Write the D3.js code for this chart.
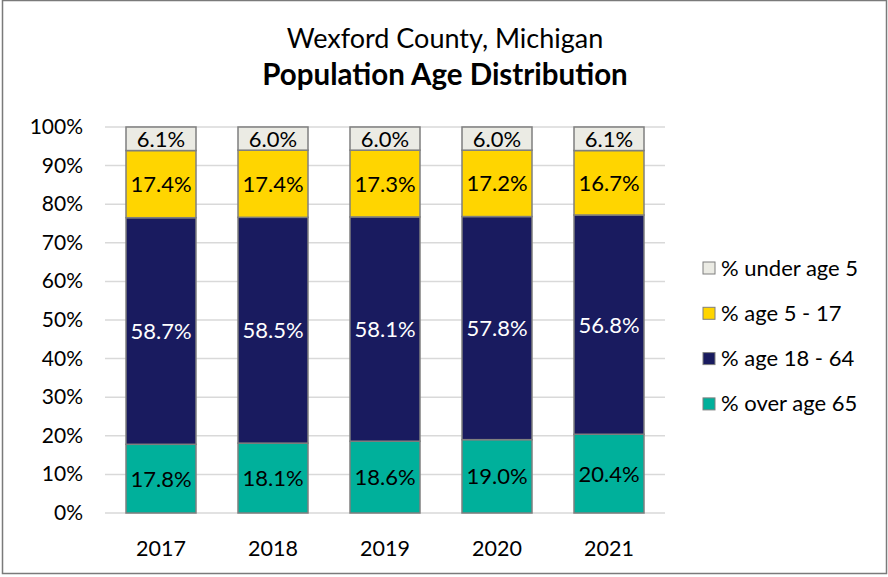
<!DOCTYPE html>
<html>
<head>
<meta charset="utf-8">
<script src="https://cdn.jsdelivr.net/npm/d3@7"></script>
<style>
  body { margin: 0; background: #fff; }
  svg { display: block; font-family: Lato, 'Open Sans', sans-serif; }
</style>
</head>
<body>
<div id="chart"></div>
<script>
// Wexford County age distribution, stacked 100% bars
const years = ['2017', '2018', '2019', '2020', '2021'];
const over65 = [17.8, 18.1, 18.6, 19.0, 20.4];
const age18to64 = [58.7, 58.5, 58.1, 57.8, 56.8];
const age5to17 = [17.4, 17.4, 17.3, 17.2, 16.7];
const under5 = [6.1, 6.0, 6.0, 6.0, 6.1];
const yTicks = [0, 10, 20, 30, 40, 50, 60, 70, 80, 90, 100];

const series = [
  { key: 'over65', name: '% over age 65', values: over65, color: '#00B09B', text: '#000' },
  { key: 'age18to64', name: '% age 18 - 64', values: age18to64, color: '#191B5F', text: '#fff' },
  { key: 'age5to17', name: '% age 5 - 17', values: age5to17, color: '#FFD500', text: '#000' },
  { key: 'under5', name: '% under age 5', values: under5, color: '#EBEBE4', text: '#000' }
];

const W = 888, H = 577;
const plot = { left: 105, right: 665, top: 127, bottom: 513 };

const svg = d3.select('#chart').append('svg')
  .attr('width', W).attr('height', H);

// outer frame
svg.append('rect')
  .attr('x', 2.5).attr('y', 0.5).attr('width', 884).attr('height', 573)
  .attr('fill', '#fff').attr('stroke', '#7a7a7a').attr('stroke-width', 1.5);

svg.append('text')
  .attr('x', 445).attr('y', 48)
  .attr('text-anchor', 'middle').attr('font-size', '27px')
  .text('Wexford County, Michigan');
svg.append('text')
  .attr('x', 445).attr('y', 85)
  .attr('text-anchor', 'middle').attr('font-size', '29.5px').attr('font-weight', 'bold')
  .text('Population Age Distribution');

const x = d3.scaleBand().domain(years).range([plot.left, plot.right]).paddingInner(0.375).paddingOuter(0.1875);
const y = d3.scaleLinear().domain([0, 100]).range([plot.bottom, plot.top]);

// gridlines
svg.append('g').selectAll('line').data(yTicks).join('line')
  .attr('x1', plot.left).attr('x2', plot.right)
  .attr('y1', d => y(d)).attr('y2', d => y(d))
  .attr('stroke', '#d9d9d9').attr('stroke-width', 1.5);

// y axis labels
svg.append('g').selectAll('text').data(yTicks).join('text')
  .attr('x', 83).attr('y', d => y(d) + 7)
  .attr('text-anchor', 'end').attr('font-size', '21px')
  .text(d => d + '%');

// x axis labels
svg.append('g').selectAll('text').data(years).join('text')
  .attr('x', d => x(d) + x.bandwidth() / 2).attr('y', 556)
  .attr('text-anchor', 'middle').attr('font-size', '21.5px')
  .text(d => d);

// stack
const rows = years.map((yr, i) => {
  const r = { year: yr };
  series.forEach(s => { r[s.key] = s.values[i]; });
  return r;
});
const stacked = d3.stack().keys(series.map(s => s.key))(rows);

stacked.forEach((layer, li) => {
  const s = series[li];
  const g = svg.append('g');
  g.selectAll('rect').data(layer).join('rect')
    .attr('x', d => x(d.data.year))
    .attr('width', x.bandwidth())
    .attr('y', d => y(d[1]))
    .attr('height', d => y(d[0]) - y(d[1]))
    .attr('fill', s.color)
    .attr('stroke', '#7f7f7f').attr('stroke-width', 1.5);
  g.selectAll('text').data(layer).join('text')
    .attr('x', d => x(d.data.year) + x.bandwidth() / 2)
    .attr('y', d => (y(d[0]) + y(d[1])) / 2 + 8)
    .attr('text-anchor', 'middle').attr('font-size', '22px')
    .attr('fill', s.text)
    .text(d => d.data[s.key].toFixed(1) + '%');
});

// legend (top to bottom: reverse stack order)
const legendItems = series.slice().reverse();
const lg = svg.append('g');
legendItems.forEach((s, i) => {
  const ly = 268 + i * 45.3;
  lg.append('rect')
    .attr('x', 703).attr('y', ly - 6).attr('width', 12).attr('height', 12)
    .attr('fill', s.color).attr('stroke', '#7f7f7f').attr('stroke-width', 1);
  lg.append('text')
    .attr('x', 721).attr('y', ly + 7.5)
    .attr('font-size', '22px')
    .text(s.name);
});
</script>
</body>
</html>
